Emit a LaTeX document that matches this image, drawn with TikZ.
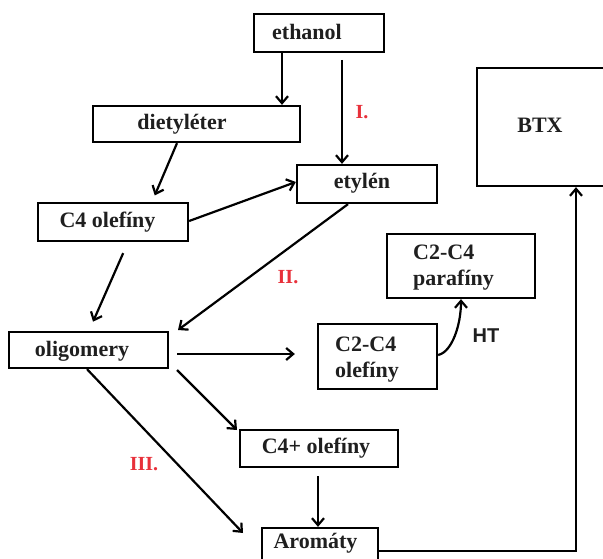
\documentclass[tikz,border=0pt]{standalone}
\usepackage{fontspec}
\setmainfont{Liberation Serif}
\newfontfamily\htfont{Liberation Sans}
\usetikzlibrary{arrows.meta}
\definecolor{lblred}{RGB}{232,48,58}
\begin{document}
\begin{tikzpicture}[x=1pt,y=-1pt,
  box/.style={draw, line width=2.3pt, inner sep=0pt},
  txt/.style={font=\fontsize{22}{26}\selectfont\bfseries, text=black!88, inner sep=0pt, align=left},
  red/.style={font=\fontsize{20}{24}\selectfont\bfseries, text=lblred, inner sep=0pt},
  arr/.style={line width=2.2pt, -{Straight Barb[length=7pt,width=12pt]}},
]
\clip (0,0) rectangle (603,559);
\fill[white] (0,0) rectangle (603,559);
% boxes
\node[box, minimum width=130, minimum height=38] (ethanol) at (319,33) {};
\node[box, minimum width=207, minimum height=36] (dietyl) at (196.5,124) {};
\node[box, minimum width=140, minimum height=38] (etylen) at (367,184) {};
\node[box, minimum width=150, minimum height=38] (c4) at (113,222) {};
\node[box, minimum width=140, minimum height=118] (btx) at (547,127) {};
\node[box, minimum width=148, minimum height=64] (c2c4p) at (461,266) {};
\node[box, minimum width=159, minimum height=36] (oligo) at (88.5,350) {};
\node[box, minimum width=119, minimum height=65] (c2c4o) at (377.5,356.5) {};
\node[box, minimum width=158, minimum height=37] (c4p) at (319,448.5) {};
\node[box, minimum width=116, minimum height=37] (arom) at (320,546.5) {};
% texts
\node[txt] (tethanol) at (307,32) {ethanol};
\node[txt] (tdietyl) at (182,124) {dietyléter};
\node[txt] (tetylen) at (362,183) {etylén};
\node[txt] (tc4) at (107.5,222) {C4 olefíny};
\node[txt] (tbtx) at (540,125) {BTX};
\node[txt, anchor=west] (tc2c4p) at (413,268) {C2-C4\\parafíny};
\node[txt] (toligo) at (82,351) {oligomery};
\node[txt, anchor=west] (tc2c4o) at (335,360) {C2-C4\\olefíny};
\node[txt] (tc4p) at (316,448) {C4+ olefíny};
\node[txt] (tarom) at (315.5,543) {Aromáty};
\node[red] (lI) at (362,112) {I.};
\node[red] (lII) at (288,277) {II.};
\node[red] (lIII) at (144,464) {III.};
\node[font=\htfont\fontsize{20}{24}\selectfont\bfseries, text=black!88, inner sep=0pt] (lHT) at (486,336) {HT};
% free ends
\coordinate (iStart) at (342,60);
\coordinate (o2s) at (177,370);
\coordinate (o2e) at (237,430);
\coordinate (o3e) at (243,533);
\coordinate (e2e) at (178,330);
% connectors
\draw[arr] (ethanol.south -| 282,0) -- (dietyl.north -| 282,0);
\draw[arr] (iStart) -- (etylen.north -| 342,0);
\draw[arr, shorten >=7pt] (dietyl.south -| 177,0) -- (c4.north -| 152,0);
\draw[arr] (c4.east |- 0,221) -- (etylen.west |- 0,182);
\draw[arr] (etylen.south -| 348,0) -- (e2e);
\draw[arr, shorten <=12pt, shorten >=10pt] (c4.south -| 128,0) -- (oligo.north -| 89,0);
\draw[arr, shorten <=8pt, shorten >=22pt] (oligo.east |- 0,354) -- (c2c4o.west |- 0,354);
\draw[arr] (c2c4o.east |- 0,355) .. controls (452,352) and (461,325) .. (c2c4p.south);
\draw[arr] (o2s) -- (o2e);
\draw[arr] (oligo.south -| 87,0) -- (o3e);
\draw[arr, shorten <=8pt] (c4p.south -| 318,0) -- (arom.north -| 318,0);
\draw[arr] (arom.east |- 0,551) -| (btx.south -| 576,0);
\end{tikzpicture}
\end{document}
